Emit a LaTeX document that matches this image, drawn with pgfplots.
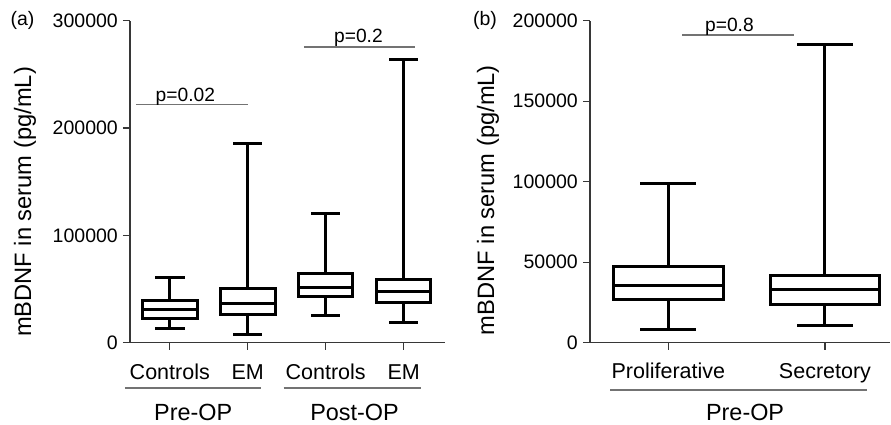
\documentclass[border=0pt]{standalone}
\usepackage{fontspec}
\setmainfont{Liberation Sans}
\usepackage{pgfplots}
\pgfplotsset{compat=1.18}

\definecolor{axgray}{RGB}{55,55,55}
\definecolor{pgray}{RGB}{115,115,115}

\newcommand{\fs}[1]{\fontsize{#1}{#1}\selectfont}

% box = quartile rectangle, median, whiskers and caps; values in pg/mL / 1000
\pgfplotsset{
  bdnf/.style={
    scale only axis,
    axis lines=left,
    axis line style={-, axgray, line width=1.4pt},
    tick align=outside,
    major tick length=7pt,
    tick style={axgray, line width=1.4pt},
    ymin=0,
    clip=false,
    unbounded coords=jump,
    yticklabel style={font=\fs{19.5}, anchor=east, inner sep=0pt, xshift=-5pt},
    xticklabel style={font=\fs{21.5}, anchor=base, inner sep=0pt},
    ylabel style={font=\fs{23.7}, anchor=center},
  },
  bx/.style={black, line width=3pt, solid, line join=miter, line cap=rect, mark=none},
}

\begin{document}
\begin{tikzpicture}

% ---- panel (a)
\begin{axis}[bdnf,
    at={(130pt,81.3pt)}, anchor=south west,
    width=315pt, height=322pt,
    xmin=-0.51, xmax=3.53, ymax=300,
    ytick={0,100,200,300},
    yticklabels={0,100000,200000,300000},
    xtick={0,1,2,3},
    xticklabels={Controls,EM,Controls,EM},
    xticklabel style={yshift=-30pt},
    ylabel={mBDNF in serum (pg/mL)},
    ylabel style={at={(axis description cs:-0.333,0.437)}},
  ]
  % Pre-OP controls: 13.4 / 22.1 / 31.1 / 38.9 / 60.9
  \addplot[bx] coordinates {
    (-0.35,22.1) (0.35,22.1) (0.35,38.9) (-0.35,38.9) (-0.35,22.1) (nan,nan)
    (-0.35,31.1) (0.35,31.1) (nan,nan)
    (0,38.9) (0,60.9) (nan,nan) (-0.17,60.9) (0.17,60.9) (nan,nan)
    (0,22.1) (0,13.4) (nan,nan) (-0.17,13.4) (0.17,13.4)
  };
  % Pre-OP EM: 8.1 / 26.5 / 36.7 / 50.3 / 185.2
  \addplot[bx] coordinates {
    (0.65,26.5) (1.35,26.5) (1.35,50.3) (0.65,50.3) (0.65,26.5) (nan,nan)
    (0.65,36.7) (1.35,36.7) (nan,nan)
    (1,50.3) (1,185.2) (nan,nan) (0.83,185.2) (1.17,185.2) (nan,nan)
    (1,26.5) (1,8.1) (nan,nan) (0.83,8.1) (1.17,8.1)
  };
  % Post-OP controls: 24.9 / 43.5 / 51.6 / 64.7 / 120.6
  \addplot[bx] coordinates {
    (1.65,43.5) (2.35,43.5) (2.35,64.7) (1.65,64.7) (1.65,43.5) (nan,nan)
    (1.65,51.6) (2.35,51.6) (nan,nan)
    (2,64.7) (2,120.6) (nan,nan) (1.83,120.6) (2.17,120.6) (nan,nan)
    (2,43.5) (2,24.9) (nan,nan) (1.83,24.9) (2.17,24.9)
  };
  % Post-OP EM: 19.0 / 37.9 / 47.9 / 59.1 / 263.5
  \addplot[bx] coordinates {
    (2.65,37.9) (3.35,37.9) (3.35,59.1) (2.65,59.1) (2.65,37.9) (nan,nan)
    (2.65,47.9) (3.35,47.9) (nan,nan)
    (3,59.1) (3,263.5) (nan,nan) (2.83,263.5) (3.17,263.5) (nan,nan)
    (3,37.9) (3,19.0) (nan,nan) (2.83,19.0) (3.17,19.0)
  };

  % significance bars
  \draw[pgray, line width=1.5pt] (axis cs:-0.436,222) -- (axis cs:1.0,222);
  \node[font=\fs{19.2}, anchor=base, inner sep=0pt] at (axis cs:0.2,224.6) {p=0.02};
  \draw[pgray, line width=1.5pt] (axis cs:1.72,275.3) -- (axis cs:3.15,275.3);
  \node[font=\fs{19.2}, anchor=base, inner sep=0pt] at (axis cs:2.42,279.6) {p=0.2};

  % group brackets
  \draw[pgray, line width=1.8pt] (axis cs:-0.577,-42.5) -- (axis cs:1.176,-42.5);
  \draw[pgray, line width=1.8pt] (axis cs:1.46,-42.5) -- (axis cs:3.227,-42.5);
  \node[font=\fs{23.4}, anchor=base, inner sep=0pt] at (axis cs:0.3,-72.7) {Pre-OP};
  \node[font=\fs{23.4}, anchor=base, inner sep=0pt] at (axis cs:2.37,-72.7) {Post-OP};
\end{axis}

% ---- panel (b)
\begin{axis}[bdnf,
    at={(590pt,81.3pt)}, anchor=south west,
    width=300pt, height=322pt,
    xmin=-0.5, xmax=1.415, ymax=200,
    ytick={0,50,100,150,200},
    yticklabels={0,50000,100000,150000,200000},
    xtick={0,1},
    xticklabels={Proliferative,Secretory},
    xticklabel style={yshift=-28.5pt},
    ylabel={mBDNF in serum (pg/mL)},
    ylabel style={at={(axis description cs:-0.34,0.443)}},
  ]
  % Proliferative: 8.1 / 27.1 / 35.7 / 47.2 / 98.8
  \addplot[bx] coordinates {
    (-0.35,27.1) (0.35,27.1) (0.35,47.2) (-0.35,47.2) (-0.35,27.1) (nan,nan)
    (-0.35,35.7) (0.35,35.7) (nan,nan)
    (0,47.2) (0,98.8) (nan,nan) (-0.17,98.8) (0.17,98.8) (nan,nan)
    (0,27.1) (0,8.1) (nan,nan) (-0.17,8.1) (0.17,8.1)
  };
  % Secretory: 10.8 / 23.9 / 32.9 / 42.0 / 185.3
  \addplot[bx] coordinates {
    (0.65,23.9) (1.35,23.9) (1.35,42.0) (0.65,42.0) (0.65,23.9) (nan,nan)
    (0.65,32.9) (1.35,32.9) (nan,nan)
    (1,42.0) (1,185.3) (nan,nan) (0.83,185.3) (1.17,185.3) (nan,nan)
    (1,23.9) (1,10.8) (nan,nan) (0.83,10.8) (1.17,10.8)
  };

  \draw[pgray, line width=1.5pt] (axis cs:0.089,191.1) -- (axis cs:0.804,191.1);
  \node[font=\fs{19.2}, anchor=base, inner sep=0pt] at (axis cs:0.39,193.2) {p=0.8};

  \draw[pgray, line width=1.8pt] (axis cs:-0.372,-29.4) -- (axis cs:1.266,-29.4);
  \node[font=\fs{23.4}, anchor=base, inner sep=0pt] at (axis cs:0.49,-48.45) {Pre-OP};
\end{axis}

\node[font=\fs{19.5}, anchor=center] at (22.5pt,404pt) {(a)};
\node[font=\fs{19.5}, anchor=center] at (485pt,404pt) {(b)};

\pgfresetboundingbox
\path[use as bounding box] (0,0) rectangle (891pt,424pt);
\end{tikzpicture}
\end{document}
